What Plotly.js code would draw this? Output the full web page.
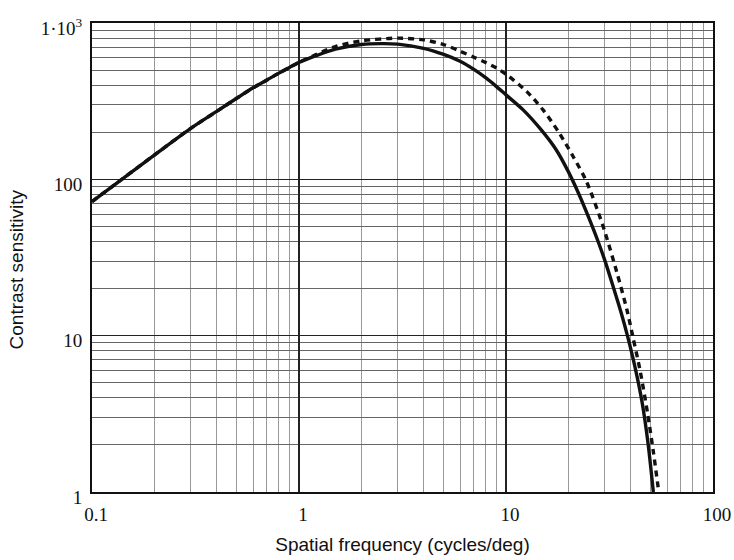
<!DOCTYPE html>
<html>
<head>
<meta charset="utf-8">
<script src="https://cdn.plot.ly/plotly-3.0.1.min.js"></script>
<style>html,body{margin:0;padding:0;background:#fff;}#chart{width:734px;height:560px;}</style>
</head>
<body>
<div id="chart"></div>
<script>
// Spatial frequency (cycles/deg) and contrast sensitivity
const solidFreq = [0.1, 0.2, 0.3, 0.4, 0.5, 0.6, 0.7, 0.8, 0.9, 1, 1.2, 1.5, 2, 2.5, 3, 4, 5, 6, 7, 8, 9, 10, 12.1, 14.8, 17.5, 20, 22.4, 25, 28, 30.3, 33, 36, 38.6, 42, 45.4, 48.5, 51.5];
const solidSens = [72, 143, 212, 272, 330, 385, 432, 478, 520, 560, 616, 680, 728, 738, 733, 689, 630, 570, 505, 445, 392, 347, 278, 207, 154, 112, 81.5, 57.7, 39.3, 29.2, 20.4, 14, 10, 6.3, 3.78, 2.07, 1.0];

const dashFreq = [0.1, 0.2, 0.3, 0.4, 0.5, 0.6, 0.7, 0.8, 0.9, 1, 1.2, 1.5, 2, 3, 4, 5, 6, 7, 8, 9, 10, 12.6, 15.1, 17.9, 21.1, 24.5, 29.6, 34.4, 38.4, 40.9, 44.5, 48.3, 51.5, 54.7];
const dashSens = [72, 143, 212, 272, 330, 385, 432, 478, 520, 560, 625, 707, 768, 800, 780, 728, 660, 604, 558, 515, 470, 364, 278, 202, 140, 96.6, 49, 25.1, 14.6, 10, 5.93, 3.18, 1.81, 1.0];

const xTickVals = [0.1, 1, 10, 100];
const xTickText = ['0.1', '1', '10', '100'];
const yTickVals = [1, 10, 100, 1000];
const yTickText = ['1', '10', '100', '1\u00b710<sup>3</sup>'];
const xTitle = 'Spatial frequency (cycles/deg)';
const yTitle = 'Contrast sensitivity';

const traces = [
  {x: dashFreq, y: dashSens, type: 'scatter', mode: 'lines',
   line: {color: '#111', width: 3.4, dash: '6px,5px', shape: 'spline', smoothing: 0.8}, hoverinfo: 'skip'},
  {x: solidFreq, y: solidSens, type: 'scatter', mode: 'lines',
   line: {color: '#111', width: 3.4, shape: 'spline', smoothing: 0.8}, hoverinfo: 'skip'}
];

const tickFont = {family: '"Liberation Serif", "Times New Roman", serif', size: 19, color: '#111'};
const titleFont = {family: '"Liberation Sans", Arial, sans-serif', size: 19, color: '#111'};

const layout = {
  width: 734, height: 560,
  margin: {l: 92, r: 21, t: 23, b: 68},
  paper_bgcolor: '#fff', plot_bgcolor: '#fff',
  showlegend: false,
  xaxis: {
    type: 'log', range: [-1, 2],
    tickvals: xTickVals, ticktext: xTickText, ticks: '',
    tickfont: tickFont, ticklabelshift: 4, ticklabelstandoff: 4,
    showgrid: true, gridcolor: '#222', gridwidth: 1.3,
    minor: {dtick: 'D1', showgrid: true, gridcolor: '#999', gridwidth: 1, ticks: ''},
    showline: true, linecolor: '#111', linewidth: 2, mirror: true,
    zeroline: false,
    title: {text: xTitle, font: titleFont, standoff: 14}
  },
  yaxis: {
    type: 'log', range: [0, 3],
    tickvals: yTickVals, ticktext: yTickText, ticks: '',
    tickfont: tickFont, ticklabelshift: 5, ticklabelstandoff: 4,
    showgrid: true, gridcolor: '#222', gridwidth: 1.3,
    minor: {dtick: 'D1', showgrid: true, gridcolor: '#666', gridwidth: 1, ticks: ''},
    showline: true, linecolor: '#111', linewidth: 2, mirror: true,
    zeroline: false
  },
  annotations: [{
    text: yTitle, font: titleFont, textangle: -90,
    xref: 'paper', yref: 'paper', x: -0.12, y: 0.4755,
    xanchor: 'center', yanchor: 'middle', showarrow: false
  }]
};

Plotly.newPlot('chart', traces, layout, {staticPlot: true, displayModeBar: false});
</script>
</body>
</html>
